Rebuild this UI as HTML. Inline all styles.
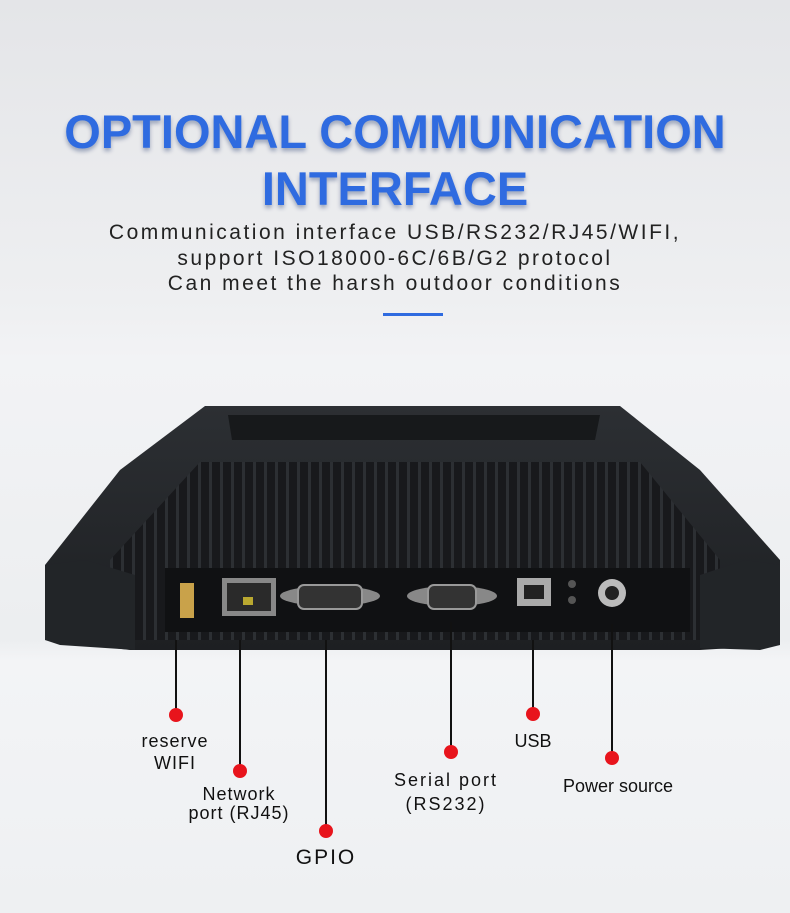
<!DOCTYPE html>
<html><head><meta charset="utf-8"><style>
html,body{margin:0;padding:0}
body{width:790px;height:913px;position:relative;overflow:hidden;font-family:"Liberation Sans",sans-serif;
background:linear-gradient(#e4e5e8 0px,#eeeff1 300px,#f2f3f5 360px,#eceef0 640px,#f3f4f6 660px,#eef0f2 913px)}
.t{position:absolute;left:0;width:790px;text-align:center;font-weight:bold;font-size:47px;letter-spacing:0px;
color:#2f6be0;text-shadow:0 3px 4px rgba(0,30,90,.35)}
.s{position:absolute;left:0;width:790px;text-align:center;font-size:21px;letter-spacing:2.5px;color:#222}
.l{position:absolute;width:2px;background:#111}
.d{position:absolute;width:14px;height:14px;border-radius:50%;background:#e8141c}
.lb{position:absolute;font-size:18px;color:#111;text-align:center;width:200px;line-height:22px}
</style></head><body>
<div class="t" style="top:104px">OPTIONAL COMMUNICATION</div>
<div class="t" style="top:161px">INTERFACE</div>
<div class="s" style="top:221px">Communication interface USB/RS232/RJ45/WIFI,</div>
<div class="s" style="top:247px">support ISO18000-6C/6B/G2 protocol</div>
<div class="s" style="top:272px">Can meet the harsh outdoor conditions</div>
<div style="position:absolute;left:383px;top:313px;width:60px;height:3px;background:#2f6be0"></div>

<svg style="position:absolute;left:0;top:0" width="790" height="913">
<defs><pattern id="fin" width="11" height="10" patternUnits="userSpaceOnUse">
<rect width="11" height="10" fill="#18191c"/><rect x="0" width="3" height="10" fill="#2c2f33"/></pattern>
<linearGradient id="top" x1="0" y1="0" x2="0" y2="1"><stop offset="0" stop-color="#2c2f33"/><stop offset="1" stop-color="#1d1f22"/></linearGradient></defs>
<polygon points="205,406 620,406 700,470 780,560 780,645 700,650 130,650 45,640 45,565 120,470" fill="url(#top)"/>
<polygon points="228,415 600,415 595,440 232,440" fill="#17191b"/>
<polygon points="200,462 640,462 720,560 720,640 110,640 110,560" fill="url(#fin)"/>
<polygon points="45,565 85,560 135,575 135,650 60,645 45,640" fill="#222528"/>
<polygon points="700,575 745,560 780,565 780,645 760,650 700,648" fill="#222528"/>
<rect x="165" y="568" width="525" height="64" fill="#101113"/>
<rect x="180" y="583" width="14" height="35" fill="#c9a24a"/>
<rect x="222" y="578" width="54" height="38" fill="#888" /><rect x="227" y="583" width="44" height="28" fill="#2a2a2a"/>
<rect x="243" y="597" width="10" height="8" fill="#b9a830"/>
<ellipse cx="330" cy="596" rx="50" ry="10" fill="#888"/><rect x="298" y="585" width="64" height="24" rx="6" fill="#333" stroke="#999" stroke-width="2"/>
<ellipse cx="452" cy="596" rx="45" ry="10" fill="#888"/><rect x="428" y="585" width="48" height="24" rx="6" fill="#333" stroke="#999" stroke-width="2"/>
<rect x="517" y="578" width="34" height="28" fill="#aaa"/><rect x="524" y="585" width="20" height="14" fill="#222"/>
<circle cx="572" cy="584" r="4" fill="#555"/><circle cx="572" cy="600" r="4" fill="#555"/>
<circle cx="612" cy="593" r="14" fill="#bbb"/><circle cx="612" cy="593" r="7" fill="#222"/>
</svg>

<div class="l" style="left:175px;top:640px;height:75px"></div><div class="d" style="left:169px;top:708px"></div>
<div class="l" style="left:239px;top:640px;height:130px"></div><div class="d" style="left:233px;top:764px"></div>
<div class="l" style="left:325px;top:640px;height:190px"></div><div class="d" style="left:319px;top:824px"></div>
<div class="l" style="left:450px;top:622px;height:128px"></div><div class="d" style="left:444px;top:745px"></div>
<div class="l" style="left:532px;top:640px;height:73px"></div><div class="d" style="left:526px;top:707px"></div>
<div class="l" style="left:611px;top:624px;height:133px"></div><div class="d" style="left:605px;top:751px"></div>

<div class="lb" style="left:75px;top:730px;letter-spacing:1px">reserve<br>WIFI</div>
<div class="lb" style="left:139px;top:785px;letter-spacing:1px;line-height:19px">Network<br>port (RJ45)</div>
<div class="lb" style="left:226px;top:847px;font-size:21px;letter-spacing:2px">GPIO</div>
<div class="lb" style="left:346px;top:768px;letter-spacing:2px;line-height:24px">Serial port<br>(RS232)</div>
<div class="lb" style="left:433px;top:730px">USB</div>
<div class="lb" style="left:518px;top:775px">Power source</div>
</body></html>
